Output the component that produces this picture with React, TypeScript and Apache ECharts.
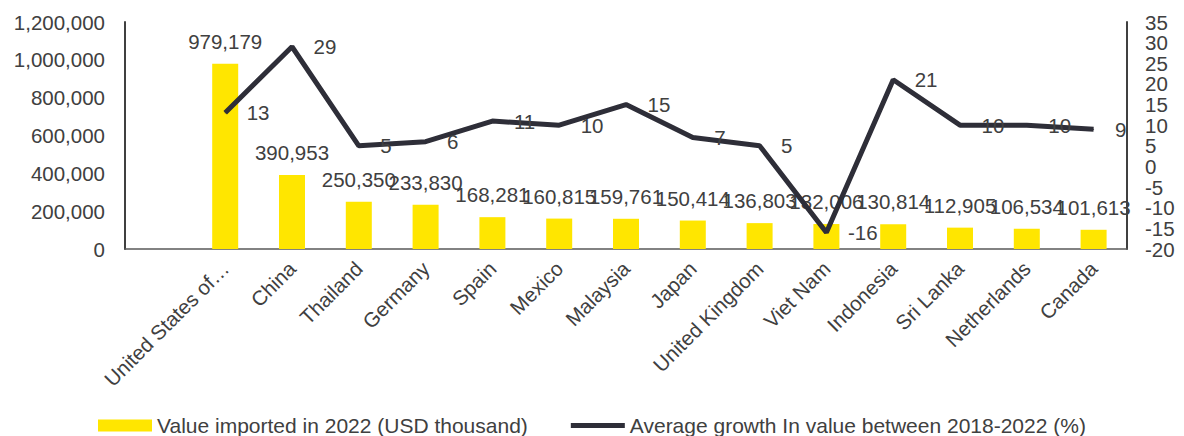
import React, { useEffect, useRef } from "react";
import * as echarts from "echarts";

const categories = ["", "United States of…", "China", "Thailand", "Germany", "Spain", "Mexico", "Malaysia", "Japan", "United Kingdom", "Viet Nam", "Indonesia", "Sri Lanka", "Netherlands", "Canada"];
const importValues = [null, 979179, 390953, 250350, 233830, 168281, 160815, 159761, 150414, 136803, 132006, 130814, 112905, 106534, 101613];
const growthValues = [null, 13, 29, 5, 6, 11, 10, 15, 7, 5, -16, 21, 10, 10, 9];
const growthTicksA = [-20, -10, 0, 10, 20, 30];
const growthTicksB = [-15, -5, 5, 15, 25, 35];
const barName = "Value imported in 2022 (USD thousand)";
const lineName = "Average growth In value between 2018-2022 (%)";

const FONT = "Liberation Sans, Arial, sans-serif";
const TEXT = "#404040";
const FS = 20.5;

export default function App() {
  const ref = useRef<HTMLDivElement>(null);
  useEffect(() => {
    document.body.style.margin = "0";
    const chart = echarts.init(ref.current!, null, { renderer: "svg" });
    const rightLabel = (vals: number[]) => ({
      margin: 18,
      fontSize: FS,
      color: TEXT,
      fontFamily: FONT,
      customValues: vals,
      showMinLabel: true,
      showMaxLabel: true,
    });
    chart.setOption({
      animation: false,
      textStyle: { fontFamily: FONT, color: TEXT },
      grid: { left: 125, right: 57, top: 22, bottom: 187, containLabel: false },
      legend: {
        top: 410,
        left: 93,
        itemWidth: 54,
        itemHeight: 12,
        itemGap: 43,
        textStyle: { fontFamily: FONT, fontSize: 21, color: TEXT },
        data: [
          { name: barName, icon: "rect" },
          { name: lineName, icon: "path://M0,0H56V5H0Z" },
        ],
      },
      xAxis: {
        type: "category",
        data: categories,
        boundaryGap: true,
        axisLine: { lineStyle: { color: "#595959", width: 1.5 } },
        axisTick: { show: false },
        axisLabel: { interval: 0, rotate: 45, margin: 16, fontSize: FS, color: TEXT, fontFamily: FONT },
      },
      yAxis: [
        {
          type: "value",
          min: 0,
          max: 1200000,
          interval: 200000,
          splitLine: { show: false },
          axisLine: { show: true, lineStyle: { color: "#404040", width: 2 } },
          axisTick: { show: false },
          axisLabel: {
            margin: 20,
            fontSize: FS,
            color: TEXT,
            fontFamily: FONT,
            showMinLabel: true,
            showMaxLabel: true,
            formatter: (v: number) => v.toLocaleString("en-US"),
          },
        },
        {
          type: "value",
          position: "right",
          min: -20,
          max: 35,
          interval: 5,
          splitLine: { show: false },
          axisLine: { show: true, lineStyle: { color: "#404040", width: 2 } },
          axisTick: { show: false },
          axisLabel: rightLabel(growthTicksA),
        },
        {
          type: "value",
          position: "right",
          offset: 0,
          min: -20,
          max: 35,
          interval: 5,
          splitLine: { show: false },
          axisLine: { show: false },
          axisTick: { show: false },
          axisLabel: rightLabel(growthTicksB),
        },
      ],
      series: [
        {
          name: barName,
          type: "bar",
          data: importValues,
          barWidth: 26,
          itemStyle: { color: "#FFE600" },
          label: {
            show: true,
            position: "top",
            distance: 12,
            fontSize: FS,
            color: TEXT,
            fontFamily: FONT,
            formatter: (p: any) => (p.value == null ? "" : Number(p.value).toLocaleString("en-US")),
          },
        },
        {
          name: lineName,
          type: "line",
          yAxisIndex: 1,
          data: growthValues,
          showSymbol: true,
          symbol: "circle",
          symbolSize: 1,
          lineStyle: { color: "#2E2E38", width: 5 },
          itemStyle: { color: "#2E2E38" },
          label: {
            show: true,
            position: "right",
            distance: 21,
            fontSize: FS,
            color: TEXT,
            fontFamily: FONT,
          },
        },
      ],
    });
    return () => chart.dispose();
  }, []);
  return <div ref={ref} style={{ width: 1184, height: 436 }} />;
}
